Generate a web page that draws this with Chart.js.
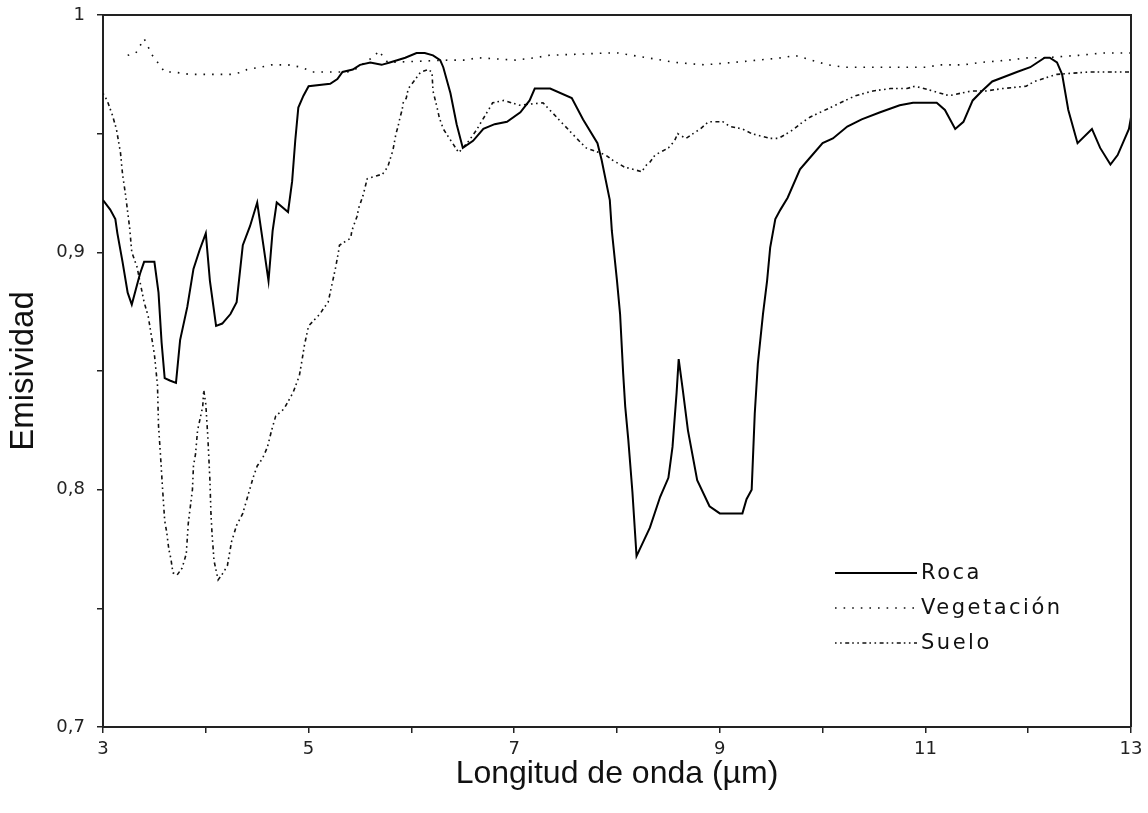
<!DOCTYPE html>
<html>
<head>
<meta charset="utf-8">
<script src="https://cdn.jsdelivr.net/npm/chart.js@4/dist/chart.umd.min.js"></script>
<style>
  html, body { margin: 0; padding: 0; background: #fff; }
  #wrap { width: 1148px; height: 813px; position: relative; }
</style>
</head>
<body>
<div id="wrap"><canvas id="c" width="1148" height="813"></canvas></div>
<script>
// ---- Data ----
const seriesNames = ["Roca", "Vegetación", "Suelo"];

const rocaX = [3.00,3.07,3.12,3.14,3.19,3.24,3.28,3.36,3.40,3.50,3.54,3.57,3.60,3.65,3.71,3.75,3.82,3.88,3.94,4.00,4.04,4.10,4.16,4.24,4.30,4.36,4.43,4.50,4.56,4.61,4.65,4.69,4.80,4.84,4.87,4.90,4.95,5.00,5.21,5.28,5.33,5.43,5.50,5.60,5.71,5.79,5.94,6.05,6.13,6.21,6.28,6.31,6.38,6.44,6.50,6.60,6.70,6.81,6.93,7.06,7.15,7.20,7.35,7.56,7.67,7.81,7.85,7.93,7.95,8.00,8.03,8.06,8.08,8.11,8.15,8.19,8.32,8.42,8.50,8.54,8.58,8.60,8.64,8.69,8.78,8.90,9.00,9.22,9.26,9.31,9.34,9.37,9.42,9.46,9.49,9.54,9.59,9.66,9.78,9.86,10.00,10.10,10.24,10.38,10.56,10.75,10.88,11.11,11.19,11.29,11.37,11.46,11.55,11.65,11.77,11.89,12.02,12.16,12.21,12.28,12.33,12.39,12.48,12.62,12.70,12.80,12.87,12.98,13.00];
const rocaY = [0.922,0.918,0.914,0.908,0.896,0.883,0.878,0.891,0.896,0.896,0.883,0.862,0.847,0.846,0.845,0.863,0.877,0.893,0.901,0.908,0.888,0.869,0.870,0.874,0.879,0.903,0.911,0.921,0.903,0.888,0.909,0.921,0.917,0.930,0.947,0.961,0.966,0.970,0.971,0.973,0.976,0.977,0.979,0.980,0.979,0.980,0.982,0.984,0.984,0.983,0.981,0.978,0.967,0.954,0.944,0.947,0.952,0.954,0.955,0.959,0.964,0.969,0.969,0.965,0.956,0.946,0.939,0.922,0.909,0.888,0.874,0.849,0.835,0.821,0.799,0.772,0.784,0.797,0.805,0.818,0.841,0.855,0.842,0.825,0.804,0.793,0.790,0.790,0.796,0.800,0.832,0.853,0.874,0.888,0.902,0.914,0.918,0.923,0.935,0.939,0.946,0.948,0.953,0.956,0.959,0.962,0.963,0.963,0.960,0.952,0.955,0.964,0.968,0.972,0.974,0.976,0.978,0.982,0.982,0.980,0.975,0.960,0.946,0.952,0.944,0.937,0.941,0.952,0.957];

const vegX = [3.24,3.32,3.36,3.40,3.48,3.60,3.68,3.84,4.25,4.36,4.40,4.53,4.64,4.80,4.93,5.04,5.12,5.25,5.38,5.45,5.55,5.65,5.68,5.77,6.36,6.53,6.64,7.01,7.21,7.33,7.92,8.01,8.57,8.85,9.13,9.61,9.73,10.05,10.21,10.37,10.69,11.02,11.13,11.37,11.53,11.81,12.01,12.16,12.49,12.73,12.85,13.00];
const vegY = [0.983,0.984,0.987,0.990,0.983,0.976,0.976,0.975,0.975,0.976,0.977,0.978,0.979,0.979,0.978,0.976,0.976,0.976,0.976,0.977,0.980,0.983,0.985,0.980,0.981,0.981,0.982,0.981,0.982,0.983,0.984,0.984,0.980,0.979,0.980,0.982,0.983,0.979,0.978,0.978,0.978,0.978,0.979,0.979,0.980,0.981,0.982,0.982,0.983,0.984,0.984,0.984];

const sueloX = [3.00,3.04,3.09,3.13,3.17,3.19,3.22,3.26,3.28,3.33,3.40,3.44,3.50,3.53,3.54,3.56,3.58,3.60,3.62,3.64,3.66,3.68,3.72,3.77,3.81,3.83,3.85,3.87,3.88,3.90,3.92,3.94,3.97,3.98,4.00,4.02,4.04,4.05,4.06,4.08,4.12,4.17,4.21,4.25,4.30,4.36,4.42,4.46,4.50,4.55,4.60,4.64,4.68,4.76,4.85,4.91,4.93,4.96,5.00,5.11,5.14,5.19,5.21,5.26,5.29,5.30,5.41,5.42,5.47,5.49,5.53,5.57,5.72,5.77,5.82,5.85,5.87,5.89,5.91,5.92,5.95,5.97,6.04,6.09,6.16,6.20,6.21,6.25,6.27,6.31,6.46,6.56,6.64,6.68,6.75,6.79,6.90,7.05,7.28,7.63,7.70,7.89,7.95,8.07,8.24,8.29,8.32,8.37,8.50,8.56,8.59,8.67,8.74,8.81,8.89,9.03,9.10,9.22,9.31,9.49,9.57,9.69,9.81,9.88,10.32,10.49,10.66,10.82,10.90,11.07,11.23,11.45,11.59,11.75,11.98,12.06,12.28,12.60,12.77,12.93,13.00];
const sueloY = [0.967,0.964,0.958,0.952,0.942,0.933,0.924,0.910,0.900,0.894,0.879,0.873,0.857,0.844,0.827,0.814,0.800,0.787,0.782,0.775,0.771,0.765,0.764,0.767,0.773,0.786,0.793,0.800,0.810,0.815,0.825,0.829,0.835,0.842,0.836,0.822,0.804,0.790,0.782,0.770,0.762,0.765,0.768,0.778,0.785,0.790,0.799,0.805,0.810,0.813,0.818,0.825,0.831,0.834,0.841,0.848,0.853,0.861,0.869,0.874,0.876,0.879,0.883,0.893,0.900,0.903,0.906,0.909,0.915,0.919,0.924,0.931,0.933,0.936,0.943,0.950,0.953,0.957,0.960,0.963,0.965,0.969,0.973,0.976,0.977,0.976,0.968,0.961,0.957,0.952,0.942,0.947,0.952,0.955,0.960,0.963,0.964,0.962,0.963,0.947,0.944,0.941,0.939,0.936,0.934,0.937,0.938,0.941,0.944,0.947,0.950,0.948,0.950,0.952,0.955,0.955,0.953,0.952,0.950,0.948,0.948,0.951,0.955,0.957,0.966,0.968,0.969,0.969,0.970,0.968,0.966,0.968,0.968,0.969,0.970,0.972,0.975,0.976,0.976,0.976,0.976];

const xTickLabels = [3, 5, 7, 9, 11, 13];
const yTickLabels = ["0,7", "0,8", "0,9", "1"];

// ---- Build ----
function pts(xs, ys) { return xs.map((x, i) => ({ x: x, y: ys[i] })); }

const styles = [
  { color: "#000", width: 2, dash: [] },
  { color: "#111", width: 1.6, dash: [1.6, 7] },
  { color: "#111", width: 1.6, dash: [1.6, 3.5, 1.6, 3.5, 4, 3] }
];

const datasets = [pts(rocaX, rocaY), pts(vegX, vegY), pts(sueloX, sueloY)].map((d, i) => ({
  label: seriesNames[i],
  data: d,
  borderColor: styles[i].color,
  borderWidth: styles[i].width,
  borderDash: styles[i].dash,
  pointRadius: 0,
  tension: 0,
  fill: false
}));

const frameAndLegend = {
  id: "frameAndLegend",
  afterDraw(chart) {
    const ctx = chart.ctx;
    const a = chart.chartArea;
    ctx.save();
    ctx.strokeStyle = "#222";
    ctx.lineWidth = 2;
    ctx.beginPath();
    ctx.moveTo(a.left, a.top);
    ctx.lineTo(a.right, a.top);
    ctx.lineTo(a.right, a.bottom);
    ctx.stroke();
    // legend
    const lx0 = 835, lx1 = 917, tx = 921;
    const ys = [573, 608, 643];
    ctx.font = '21px "DejaVu Sans"';
    if ('letterSpacing' in ctx) ctx.letterSpacing = '2.5px';
    ctx.textBaseline = "middle";
    ctx.fillStyle = "#111";
    ys.forEach((y, i) => {
      ctx.beginPath();
      ctx.strokeStyle = styles[i].color;
      ctx.lineWidth = styles[i].width;
      ctx.setLineDash(styles[i].dash);
      ctx.moveTo(lx0, y);
      ctx.lineTo(lx1, y);
      ctx.stroke();
      ctx.setLineDash([]);
      ctx.fillText(seriesNames[i], tx, y + 1);
    });
    ctx.restore();
  }
};

new Chart(document.getElementById("c"), {
  type: "line",
  data: { datasets: datasets },
  options: {
    responsive: false,
    animation: false,
    layout: { padding: { top: 15, right: 17, left: 0, bottom: 0 } },
    plugins: { legend: { display: false }, tooltip: { enabled: false } },
    scales: {
      x: {
        type: "linear",
        min: 3, max: 13,
        afterFit(s) { s.height = 86; s.paddingLeft = 0; s.paddingRight = 0; },
        border: { display: true, color: "#222", width: 2 },
        grid: { drawOnChartArea: false, drawTicks: true, tickLength: 6, color: "#222", lineWidth: 1.5 },
        ticks: {
          stepSize: 1, autoSkip: false, maxRotation: 0,
          padding: 6,
          color: "#222",
          font: { family: "DejaVu Sans", size: 18 },
          callback: (v) => xTickLabels.includes(v) ? String(v) : ""
        },
        title: {
          display: true,
          text: "Longitud de onda (µm)",
          color: "#111",
          font: { family: "Liberation Sans", size: 32 },
          padding: { top: 0, bottom: 20 }
        }
      },
      y: {
        type: "linear",
        min: 0.7, max: 1,
        afterFit(s) { s.width = 103; s.paddingTop = 0; s.paddingBottom = 0; },
        border: { display: true, color: "#222", width: 2 },
        grid: { drawOnChartArea: false, drawTicks: true, tickLength: 6, color: "#222", lineWidth: 1.5 },
        ticks: {
          stepSize: 0.05, autoSkip: false,
          padding: 12,
          color: "#222",
          font: { family: "DejaVu Sans", size: 18 },
          callback: (v) => {
            const k = Math.round(v * 100);
            if (k % 10 !== 0) return "";
            return yTickLabels[(k - 70) / 10];
          }
        },
        title: {
          display: true,
          text: "Emisividad",
          color: "#111",
          font: { family: "Liberation Sans", size: 33 },
          padding: { top: 4, bottom: 0 }
        }
      }
    }
  },
  plugins: [frameAndLegend]
});
</script>
</body>
</html>
